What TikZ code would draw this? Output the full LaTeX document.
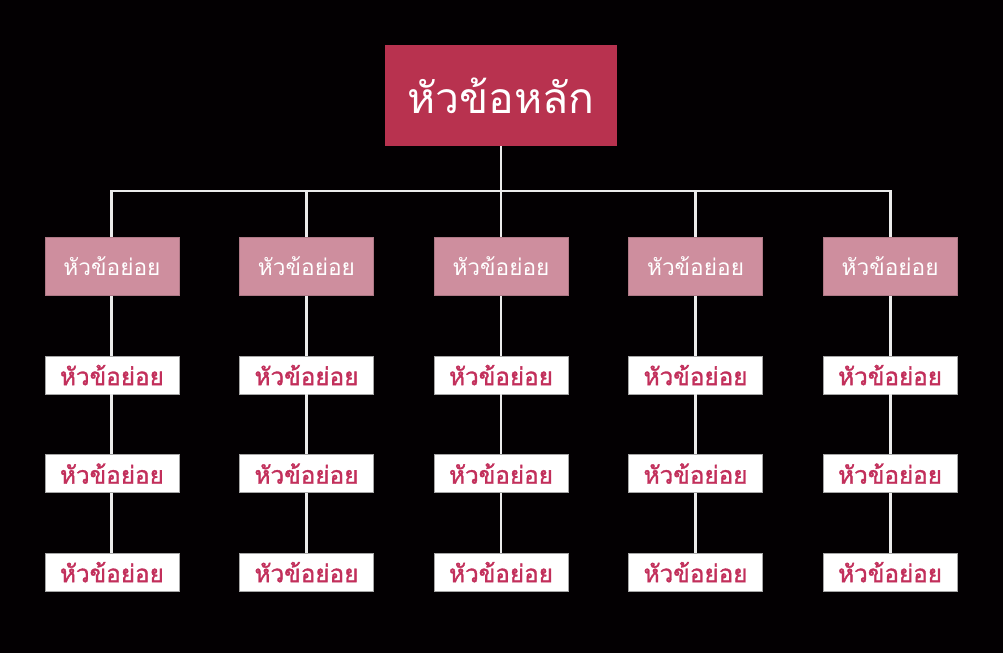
\documentclass[tikz,border=0pt]{standalone}
\usepackage{fontspec}
\newfontfamily\thaifont[Script=Thai]{Loma}
\newfontfamily\thaileaffont[Script=Thai,FakeBold=1.3]{Loma}
\usetikzlibrary{positioning}
\definecolor{topiccrimson}{HTML}{B8324F}
\definecolor{leafcrimson}{HTML}{C22F5B}
\definecolor{subpink}{HTML}{CE8E9E}
\definecolor{bgblack}{HTML}{030002}

\begin{document}
\begin{tikzpicture}[x=0.75pt, y=-0.75pt,
    node distance=45pt,
    topic/.style={fill=topiccrimson, text=white, minimum width=174pt,
      minimum height=75.75pt, inner sep=0pt,
      font=\thaifont\fontsize{32}{36}\selectfont},
    subtopic/.style={fill=subpink, draw=subpink!85!black, line width=0.4pt,
      text=white, minimum width=100.5pt, minimum height=43.5pt, inner sep=0pt,
      font=\thaifont\fontsize{17}{20}\selectfont},
    leaf/.style={fill=white, draw=gray!70, line width=0.4pt,
      text=leafcrimson, minimum width=100.5pt, minimum height=28.5pt,
      inner sep=0pt, font=\thaileaffont\fontsize{18.2}{21}\selectfont},
    link/.style={draw=white!92!black, line width=2.2pt}]

  \fill[bgblack] (0,0) rectangle (1003,653);

  \node[topic] (main) at (501,95.5) {หัวข้อหลัก};
  \coordinate (bar) at (501,191);

  \node[subtopic, below=68.25pt of main] (s3) {หัวข้อย่อย};
  \node[subtopic, left=of s3] (s2) {หัวข้อย่อย};
  \node[subtopic, left=of s2] (s1) {หัวข้อย่อย};
  \node[subtopic, right=of s3] (s4) {หัวข้อย่อย};
  \node[subtopic, right=of s4] (s5) {หัวข้อย่อย};

  \draw[link] (main.south) -- (bar);
  \foreach \i in {1,...,5} {
    \draw[link] (bar) -| (s\i.north);
    \node[leaf, below=45pt of s\i] (a\i) {หัวข้อย่อย};
    \node[leaf, below=45pt of a\i] (b\i) {หัวข้อย่อย};
    \node[leaf, below=45pt of b\i] (c\i) {หัวข้อย่อย};
    \draw[link] (s\i.south) -- (a\i.north);
    \draw[link] (a\i.south) -- (b\i.north);
    \draw[link] (b\i.south) -- (c\i.north);
  }
\end{tikzpicture}
\end{document}
